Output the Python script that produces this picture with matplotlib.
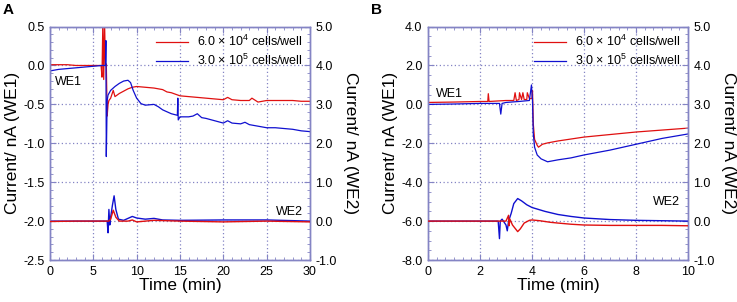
import matplotlib
matplotlib.use("Agg")
import matplotlib.pyplot as plt
from matplotlib.ticker import MultipleLocator, AutoMinorLocator

plt.rcParams["font.family"] = ["Liberation Sans", "DejaVu Sans"]
plt.rcParams["mathtext.fontset"] = "custom"
plt.rcParams["mathtext.rm"] = "Liberation Sans"

# ============================
# DATOS
# ============================

# --- Panel A: WE1 (eje izquierdo) ---
a_red_we1_t = [0, 1, 2, 3, 4, 5, 5.9, 6.0, 6.1, 6.2, 6.3, 6.4, 6.5, 6.6, 6.7, 6.8,
               7.0, 7.3, 7.5, 8, 8.5, 9, 9.5, 10, 11, 12, 13, 13.5, 14, 15, 16,
               17, 18, 19, 20, 20.5, 21, 22, 23, 23.3, 24, 25, 26, 27, 28, 29, 30]
a_red_we1_i = [0.01, 0.01, 0.01, 0.0, 0.0, 0.0, 0.0, -0.15, 0.55, -0.18, 0.55, 0.0,
               0.02, -0.65, -0.5, -0.45, -0.42, -0.32, -0.4, -0.36, -0.33, -0.3,
               -0.28, -0.27, -0.28, -0.29, -0.31, -0.34, -0.35, -0.39, -0.4, -0.41,
               -0.42, -0.43, -0.44, -0.41, -0.44, -0.45, -0.45, -0.42, -0.47, -0.45,
               -0.45, -0.45, -0.45, -0.46, -0.46]

a_blue_we1_t = [0, 1, 2, 3, 4, 5, 6, 6.4, 6.45, 6.5, 6.6, 6.7, 7.0, 7.5, 8, 8.5,
                9, 9.3, 9.6, 10, 10.5, 11, 12, 12.5, 13, 14, 14.7, 14.75, 14.8,
                15, 16, 16.5, 17, 17.5, 18, 19, 20, 20.5, 21, 22, 22.5, 23, 24,
                25, 26, 27, 28, 29, 30]
a_blue_we1_i = [-0.07, -0.05, -0.04, -0.03, -0.02, -0.01, 0.0, 0.0, 0.32, -1.17,
                -0.45, -0.38, -0.32, -0.27, -0.23, -0.2, -0.19, -0.22, -0.32, -0.42,
                -0.49, -0.51, -0.5, -0.53, -0.57, -0.62, -0.64, -0.42, -0.7, -0.66,
                -0.66, -0.65, -0.62, -0.67, -0.68, -0.71, -0.74, -0.71, -0.74,
                -0.75, -0.73, -0.76, -0.78, -0.8, -0.8, -0.81, -0.82, -0.84, -0.85]

# --- Panel A: WE2 (eje derecho) ---
a_red_we2_t = [0, 3, 6, 6.8, 7.0, 7.3, 7.6, 8, 9, 9.5, 10, 12, 15, 20, 25, 30]
a_red_we2_i = [-0.01, 0.0, 0.0, 0.0, 0.05, 0.28, 0.1, 0.0, 0.0, 0.03, -0.02,
               0.02, 0.0, -0.02, 0.0, -0.02]

a_blue_we2_t = [0, 3, 6.6, 6.7, 6.8, 6.9, 7.0, 7.2, 7.4, 7.6, 7.9, 8.5, 9.5, 10,
                11, 12, 13, 15, 20, 25, 30]
a_blue_we2_i = [0.0, 0.0, 0.0, -0.3, 0.3, -0.1, 0.1, 0.4, 0.65, 0.3, 0.05, 0.02,
                0.12, 0.08, 0.05, 0.07, 0.03, 0.02, 0.03, 0.03, 0.0]

# --- Panel B: WE1 (eje izquierdo) ---
b_red_we1_t = [0, 1, 2, 2.3, 2.32, 2.35, 3, 3.3, 3.35, 3.4, 3.5, 3.52, 3.6, 3.65,
               3.7, 3.8, 3.82, 3.9, 4.0, 4.02, 4.05, 4.1, 4.2, 4.25, 4.4, 4.6, 5,
               6, 7, 8, 9, 10]
b_red_we1_i = [0.1, 0.12, 0.15, 0.15, 0.55, 0.15, 0.2, 0.2, 0.6, 0.2, 0.25, 0.6,
               0.25, 0.6, 0.25, 0.25, 0.6, 0.3, 0.3, 0.7, -1.0, -1.8, -2.1, -2.2,
               -2.05, -1.98, -1.88, -1.68, -1.55, -1.42, -1.32, -1.22]

b_blue_we1_t = [0, 1, 2, 2.75, 2.8, 2.85, 3, 3.5, 3.9, 3.98, 4.02, 4.05, 4.1, 4.2,
                4.35, 4.6, 5, 5.5, 6, 7, 8, 9, 10]
b_blue_we1_i = [0.0, 0.02, 0.05, 0.05, -0.5, 0.05, 0.1, 0.15, 0.2, 1.0, 0.2, -1.5,
                -2.2, -2.6, -2.8, -2.95, -2.85, -2.75, -2.6, -2.35, -2.05, -1.75,
                -1.52]

# --- Panel B: WE2 (eje derecho) ---
b_red_we2_t = [0, 3.0, 3.1, 3.12, 3.15, 3.25, 3.45, 3.55, 3.7, 3.9, 4.0, 4.3, 4.7,
               5, 5.5, 6, 7, 8, 9, 10]
b_red_we2_i = [0.0, 0.0, 0.15, -0.12, 0.05, -0.1, -0.27, -0.2, -0.05, 0.02, 0.03,
               0.01, -0.03, -0.05, -0.08, -0.1, -0.11, -0.11, -0.11, -0.12]

b_blue_we2_t = [0, 2.7, 2.75, 2.78, 2.85, 3.0, 3.05, 3.1, 3.2, 3.3, 3.45, 3.6, 3.8,
                4.0, 4.5, 5, 5.5, 6, 7, 8, 9, 10]
b_blue_we2_i = [0.0, 0.0, -0.45, 0.0, 0.05, -0.1, -0.25, 0.0, 0.2, 0.45, 0.58,
                0.52, 0.42, 0.35, 0.25, 0.17, 0.12, 0.08, 0.04, 0.02, 0.01, 0.0]

legend_labels = ["6.0 × 10$^{4}$ cells/well", "3.0 × 10$^{5}$ cells/well"]

# ============================
# ESTILO
# ============================
FRAME = "#8484c4"
RED = "#e01010"
BLUE = "#1010d0"
TICK_FS = 9
LABEL_FS = 12.5


def style_axes(ax, ax2, xmaj, xmin, ymaj, ymin, y2maj, y2min):
    for a in (ax, ax2):
        for s in a.spines.values():
            s.set_color(FRAME)
            s.set_linewidth(1.0)
    ax.xaxis.set_major_locator(MultipleLocator(xmaj))
    ax.xaxis.set_minor_locator(AutoMinorLocator(xmin))
    ax.yaxis.set_major_locator(MultipleLocator(ymaj))
    ax.yaxis.set_minor_locator(AutoMinorLocator(ymin))
    ax2.yaxis.set_major_locator(MultipleLocator(y2maj))
    ax2.yaxis.set_minor_locator(AutoMinorLocator(y2min))
    ax.tick_params(which="both", direction="in", color=FRAME, top=True,
                   labelsize=TICK_FS, pad=4)
    ax.tick_params(which="major", length=4)
    ax.tick_params(which="minor", length=2.5)
    ax2.tick_params(which="both", direction="in", color=FRAME,
                    labelsize=TICK_FS, pad=4)
    ax2.tick_params(which="major", length=4)
    ax2.tick_params(which="minor", length=2.5)
    ax.yaxis.set_major_formatter(plt.FormatStrFormatter("%.1f"))
    ax2.yaxis.set_major_formatter(plt.FormatStrFormatter("%.1f"))
    ax.grid(True, which="major", linestyle=(0, (1, 2)), color=FRAME, linewidth=0.9)
    ax.set_xlabel("Time (min)", fontsize=LABEL_FS, labelpad=0)
    ax.set_ylabel("Current/ nA (WE1)", fontsize=LABEL_FS, labelpad=2)
    ax2.set_ylabel("Current/ nA (WE2)", fontsize=LABEL_FS, rotation=270,
                   labelpad=15)


fig = plt.figure(figsize=(7.37, 3.02), dpi=100)

# ============================
# PANEL A
# ============================
axA = fig.add_axes([0.0678, 0.139, 0.3528, 0.773])
axA2 = axA.twinx()
axA.plot(a_red_we1_t, a_red_we1_i, color=RED, lw=0.9, label=legend_labels[0])
axA.plot(a_blue_we1_t, a_blue_we1_i, color=BLUE, lw=0.9, label=legend_labels[1])
axA2.plot(a_red_we2_t, a_red_we2_i, color=RED, lw=1.0, zorder=3)
axA2.plot(a_blue_we2_t, a_blue_we2_i, color=BLUE, lw=1.0)
axA.set_xlim(0, 30)
axA.set_ylim(-2.5, 0.5)
axA2.set_ylim(-1.0, 5.0)
style_axes(axA, axA2, 5, 5, 0.5, 5, 1.0, 5)
axA.legend(loc="upper right", frameon=False, fontsize=9, handlelength=2.6,
           borderaxespad=0.2, labelspacing=0.3, handletextpad=0.7)
axA.text(0.02, 0.75, "WE1", transform=axA.transAxes, fontsize=9)
axA.text(0.87, 0.195, "WE2", transform=axA.transAxes, fontsize=9)
fig.text(0.004, 0.955, "A", fontsize=11, fontweight="bold")

# ============================
# PANEL B
# ============================
axB = fig.add_axes([0.5807, 0.139, 0.3528, 0.773])
axB2 = axB.twinx()
axB.plot(b_red_we1_t, b_red_we1_i, color=RED, lw=0.9, label=legend_labels[0])
axB.plot(b_blue_we1_t, b_blue_we1_i, color=BLUE, lw=0.9, label=legend_labels[1])
axB2.plot(b_red_we2_t, b_red_we2_i, color=RED, lw=1.0, zorder=3)
axB2.plot(b_blue_we2_t, b_blue_we2_i, color=BLUE, lw=1.0)
axB.set_xlim(0, 10)
axB.set_ylim(-8.0, 4.0)
axB2.set_ylim(-1.0, 5.0)
style_axes(axB, axB2, 2, 6, 2.0, 4, 1.0, 5)
axB.legend(loc="upper right", frameon=False, fontsize=9, handlelength=2.6,
           borderaxespad=0.2, labelspacing=0.3, handletextpad=0.7)
axB.text(0.03, 0.70, "WE1", transform=axB.transAxes, fontsize=9)
axB.text(0.865, 0.236, "WE2", transform=axB.transAxes, fontsize=9)
fig.text(0.504, 0.955, "B", fontsize=11, fontweight="bold")

fig.savefig("out.png", dpi=100)
